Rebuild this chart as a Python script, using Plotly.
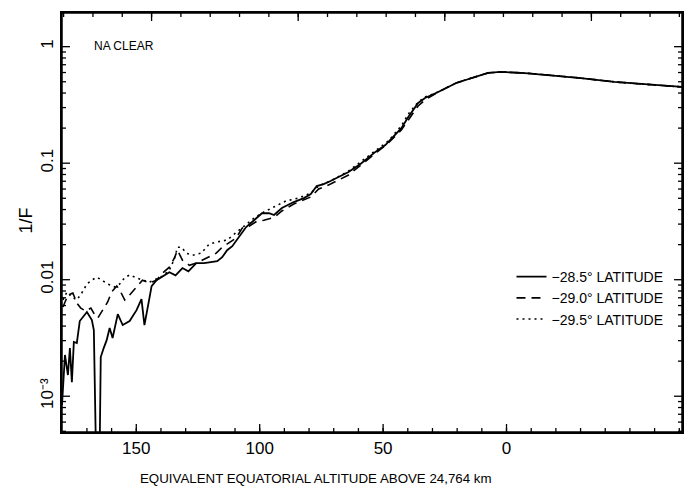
import math
import plotly.graph_objects as go

# ---- data ----
# altitude (km above 24,764 km) and 1/F for each latitude, left (noisy) part
solid_x = [180.1, 178.9, 177.7, 176.9, 176.1, 175.3, 174.1, 172.9, 170.0, 168.0, 167.2,
           166.4, 164.8, 164.4, 163.2, 162.0, 160.8, 159.6, 157.5, 155.5, 152.7, 149.9,
           147.9, 146.7, 144.6, 143.8, 141.8, 139.4, 136.6, 134.1, 131.3, 128.9, 125.7,
           122.5, 119.6, 117.2, 115.2, 113.2, 111.1, 108.3, 105.5, 102.3, 99.1, 96.2,
           94.2, 91.0, 86.2, 82.1, 79.3, 76.9, 74.1, 71.3, 68.0, 64.0, 58.8, 53.1, 49.1,
           42.6, 39.8, 35.8, 33.0]
solid_y = [8.4e-4, 2.26e-3, 1.52e-3, 2.59e-3, 1.32e-3, 2.92e-3, 2.86e-3, 4.42e-3, 5.28e-3,
           4.51e-3, 3.70e-3, 4.0e-4, 4.0e-4, 2.17e-3, 2.59e-3, 3.03e-3, 3.85e-3, 3.16e-3,
           5.07e-3, 4.08e-3, 4.42e-3, 5.48e-3, 6.81e-3, 4.08e-3, 7.09e-3, 8.81e-3, 9.91e-3,
           1.07e-2, 1.16e-2, 1.09e-2, 1.26e-2, 1.18e-2, 1.39e-2, 1.39e-2, 1.42e-2, 1.44e-2,
           1.56e-2, 1.79e-2, 1.94e-2, 2.32e-2, 2.83e-2, 3.24e-2, 3.72e-2, 3.72e-2, 3.59e-2,
           4.12e-2, 4.64e-2, 5.02e-2, 5.44e-2, 6.37e-2, 6.62e-2, 7.03e-2, 7.61e-2, 8.40e-2,
           0.100, 0.125, 0.143, 0.200, 0.249, 0.329, 0.363]

dashed_x = [179.7, 177.7, 175.7, 174.1, 172.5, 170.4, 168.4, 166.8, 165.6, 164.0, 161.6,
            160.0, 157.9, 156.7, 154.7, 152.7, 149.9, 147.5, 144.6, 141.8, 139.4, 136.6,
            134.6, 133.3, 131.3, 128.5, 125.7, 123.3, 120.4, 117.6, 115.2, 112.4, 109.6,
            107.1, 104.3, 101.1, 98.3, 94.2, 91.0, 86.2, 82.1, 79.3, 76.1, 71.3, 64.0,
            58.8, 53.1, 47.9, 42.6, 39.8, 35.8, 33.0]
dashed_y = [5.83e-3, 7.40e-3, 7.69e-3, 6.31e-3, 5.71e-3, 5.38e-3, 5.71e-3, 4.98e-3, 4.69e-3,
            5.28e-3, 6.44e-3, 7.84e-3, 8.83e-3, 8.15e-3, 6.70e-3, 7.40e-3, 8.65e-3, 9.91e-3,
            9.35e-3, 9.91e-3, 1.14e-2, 1.28e-2, 1.53e-2, 1.79e-2, 1.47e-2, 1.33e-2, 1.39e-2,
            1.47e-2, 1.56e-2, 1.69e-2, 1.90e-2, 2.06e-2, 2.27e-2, 2.77e-2, 2.88e-2, 3.18e-2,
            3.24e-2, 3.43e-2, 3.89e-2, 4.46e-2, 4.83e-2, 5.13e-2, 6.00e-2, 6.62e-2, 7.92e-2,
            0.0966, 0.120, 0.149, 0.193, 0.235, 0.310, 0.349]

dotted_x = [179.7, 178.1, 176.1, 174.1, 172.1, 170.0, 168.0, 166.0, 164.0, 161.6, 158.7,
            156.7, 154.7, 152.7, 149.9, 147.5, 144.6, 141.8, 139.4, 136.6, 134.6, 133.3,
            131.7, 129.7, 127.3, 123.7, 120.4, 117.2, 113.2, 109.2, 106.3, 102.3, 98.3,
            94.2, 89.4, 84.1, 79.3, 76.1, 71.3, 64.0, 58.8, 53.1, 47.9, 42.6, 39.8, 35.8,
            33.0]
dotted_y = [6.70e-3, 7.84e-3, 7.10e-3, 6.70e-3, 7.69e-3, 9.19e-3, 9.93e-3, 1.05e-2, 9.93e-3,
            9.19e-3, 8.65e-3, 9.19e-3, 1.04e-2, 1.10e-2, 1.04e-2, 9.93e-3, 9.55e-3, 1.01e-2,
            1.07e-2, 1.21e-2, 1.50e-2, 1.90e-2, 1.90e-2, 1.69e-2, 1.62e-2, 1.69e-2, 2.03e-2,
            2.11e-2, 2.19e-2, 2.57e-2, 2.89e-2, 3.38e-2, 3.81e-2, 4.21e-2, 4.74e-2, 5.02e-2,
            5.55e-2, 6.37e-2, 7.03e-2, 8.57e-2, 0.104, 0.127, 0.155, 0.209, 0.264, 0.335,
            0.370]

# common tail, where the three curves coincide
tail_x = [27.7, 20.4, 16.8, 10.4, 7.5, 2.3, -7.4, -16.6, -30.0, -43.7, -57.0, -71.1]
tail_y = [0.408, 0.488, 0.518, 0.571, 0.595, 0.607, 0.594, 0.571, 0.538, 0.498, 0.478, 0.451]

series_names = ["\u221228.5\u00b0 LATITUDE", "\u221229.0\u00b0 LATITUDE", "\u221229.5\u00b0 LATITUDE"]
y_tick_vals = [0.001, 0.01, 0.1, 1]
y_tick_text = ["10\u207b\u00b3", "0.01", "0.1", "1"]
y_minor_vals = [m * 10.0 ** e for e in range(-4, 1) for m in range(2, 10)]
x_tick_vals = [150, 100, 50, 0]
x_minor_vals = list(range(170, -80, -10))
top_major_vals = [0, 1, 2, 3]                                   # unlabeled top scale
top_minor_vals = [round(-0.6 + 0.2 * i, 1) for i in range(22)]

X_RANGE = [180.1, -71.1]
Y_RANGE = [-3.307, 0.289]
TOP_RANGE = [-0.611, 3.618]
FONT = "Liberation Sans, Arial, sans-serif"

fig = go.Figure()
styles = [("solid", 1.8), ("9px,6px", 1.6), ("2px,4px", 1.6)]
for (xs, ys), name, (dash, w) in zip(
        [(solid_x, solid_y), (dashed_x, dashed_y), (dotted_x, dotted_y)], series_names, styles):
    fig.add_trace(go.Scatter(x=xs + tail_x, y=ys + tail_y, mode="lines", name=name,
                             line=dict(color="black", width=w, dash=dash)))

fig.update_layout(
    width=686, height=489,
    margin=dict(l=62, r=2, t=13, b=57),
    paper_bgcolor="white", plot_bgcolor="white",
    font=dict(family=FONT, color="black", size=16),
    showlegend=True,
    legend=dict(x=0.725, y=0.408, xanchor="left", yanchor="top",
                bgcolor="rgba(0,0,0,0)", font=dict(size=14, color="black"),
                tracegroupgap=6),
    xaxis=dict(range=X_RANGE, showgrid=False, zeroline=False, showline=True,
               linecolor="black", linewidth=1.5, mirror=True, ticks="",
               tickvals=x_tick_vals, tickfont=dict(size=17, color="black")),
    yaxis=dict(type="log", range=Y_RANGE, showgrid=False, zeroline=False, showline=True,
               linecolor="black", linewidth=1.5, mirror=True, ticks="",
               tickvals=y_tick_vals, ticktext=y_tick_text, tickangle=-90,
               tickfont=dict(size=17, color="black")),
)

# frame and tick marks (positions derived from the axis scales)
tick_line = dict(color="black", width=1.3)
fig.add_shape(type="rect", xref="paper", yref="paper", x0=0, x1=1, y0=0, y1=1,
              line=dict(color="black", width=1.5), layer="above")
PH, PW = 419.0, 622.0            # plot-area size in px
for v, ln in [(v, 4) for v in x_minor_vals] + [(v, 8) for v in x_tick_vals]:
    fig.add_shape(type="line", xref="x", yref="paper", x0=v, x1=v, y0=0, y1=ln / PH,
                  line=tick_line, layer="above")
for v, ln in [(v, 4) for v in top_minor_vals] + [(v, 8) for v in top_major_vals]:
    px = (v - TOP_RANGE[0]) / (TOP_RANGE[1] - TOP_RANGE[0])
    if 0 < px < 1:
        fig.add_shape(type="line", xref="paper", yref="paper", x0=px, x1=px,
                      y0=1, y1=1 - ln / PH, line=tick_line, layer="above")
for v, ln in [(v, 4) for v in y_minor_vals] + [(v, 8) for v in y_tick_vals]:
    py = (math.log10(v) - Y_RANGE[0]) / (Y_RANGE[1] - Y_RANGE[0])
    if 0 < py < 1:
        fig.add_shape(type="line", xref="paper", yref="paper", x0=0, x1=ln / PW,
                      y0=py, y1=py, line=tick_line, layer="above")
        fig.add_shape(type="line", xref="paper", yref="paper", x0=1, x1=1 - ln / PW,
                      y0=py, y1=py, line=tick_line, layer="above")

fig.add_annotation(text="NA CLEAR", xref="paper", yref="paper", x=0.0490, y=0.922,
                   xanchor="left", yanchor="middle", showarrow=False,
                   font=dict(size=12, color="black"))
fig.add_annotation(text="EQUIVALENT EQUATORIAL ALTITUDE ABOVE 24,764 km", xref="paper",
                   yref="paper", x=0.41, y=-0.11, xanchor="center", yanchor="middle",
                   showarrow=False, font=dict(size=13.3, color="black"))
fig.add_annotation(text="1/F", xref="paper", yref="paper", x=-0.058, y=0.505,
                   xanchor="center", yanchor="middle", textangle=-90, showarrow=False,
                   font=dict(size=18, color="black"))

fig.write_html("out.html")
